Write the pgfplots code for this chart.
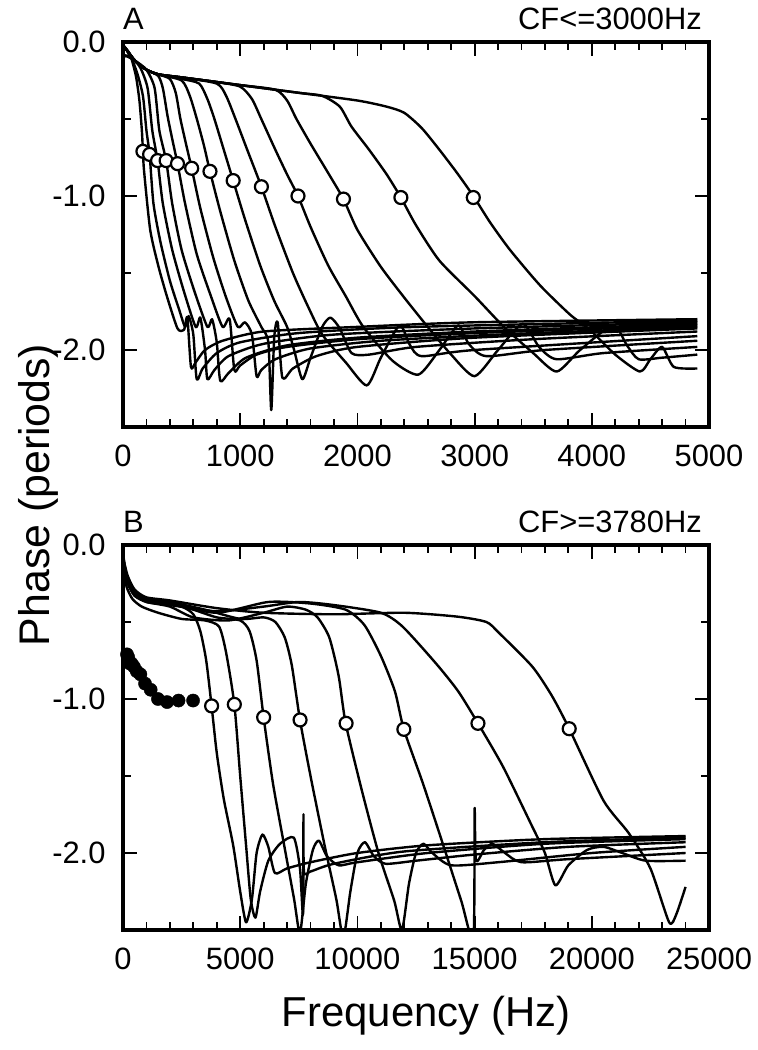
\documentclass[border=0pt]{standalone}
\usepackage{pgfplots}
\pgfplotsset{compat=1.18}
\usepackage{fontspec}
\setmainfont{Liberation Sans}
\begin{document}
\begin{tikzpicture}
\path[use as bounding box] (0bp,0bp) rectangle (758bp,1050bp);
\pgfplotsset{
  panel/.style={
    scale only axis, width=586bp, height=385bp,
    anchor=south west,
    axis line style={line width=3.8bp},
    every tick/.style={black, line width=1.8bp},
    major tick length=14bp, minor tick length=8bp,
    tick align=inside,
    ymin=-2.5, ymax=0,
    ytick={-2,-1,0}, yticklabels={-2.0,-1.0,0.0},
    minor ytick={-2.5,-1.5,-0.5},
    minor x tick num=4,
    scaled x ticks=false,
    ticklabel style={font=\fontsize{31}{36}\selectfont},
    yticklabel style={xshift=-14bp},
    xticklabel style={yshift=-14bp},
    clip=true,
  },
  cv/.style={black, line width=2.4bp, no markers, smooth, tension=0.4, line join=round},
  oc/.style={only marks, mark=*, mark size=6.5bp, mark options={fill=white, draw=black, line width=2.2bp}},
  fc/.style={only marks, mark=*, mark size=6.6bp, mark options={fill=black, draw=black}},
}
% ---------------- Panel A ----------------
\begin{axis}[panel, at={(123bp,623bp)}, xmin=0, xmax=5000,
  xtick={0,1000,2000,3000,4000,5000}, xticklabels={0,1000,2000,3000,4000,5000}]
\addplot[cv] coordinates {(0,-0.02) (60,-0.08) (110,-0.22) (140,-0.38) (161,-0.575) (170,-0.71) (180,-0.84) (232,-1.22) (300,-1.45) (374,-1.65) (465,-1.86) (520,-1.87) (549,-1.79) (580,-2.11) (620,-2.08) (700,-2.0) (850,-1.94) (1200,-1.88) (2000,-1.85) (3000,-1.82) (4900,-1.80)};
\addplot[cv] coordinates {(0,-0.1) (60,-0.09) (120,-0.2) (170,-0.35) (200,-0.575) (227,-0.73) (260,-1.05) (320,-1.3) (400,-1.55) (480,-1.74) (530,-1.85) (560,-1.78) (600,-1.9) (629,-2.19) (680,-2.12) (800,-2.02) (1000,-1.95) (1500,-1.89) (2500,-1.85) (4900,-1.81)};
\addplot[cv] coordinates {(0,-0.02) (80,-0.1) (150,-0.17) (210,-0.3) (250,-0.575) (295,-0.77) (340,-1.05) (420,-1.35) (520,-1.62) (620,-1.85) (660,-1.79) (700,-2.0) (720,-2.19) (780,-2.13) (900,-2.04) (1200,-1.96) (1800,-1.9) (3000,-1.86) (4900,-1.82)};
\addplot[cv] coordinates {(0,-0.08) (100,-0.12) (200,-0.18) (270,-0.3) (310,-0.575) (368,-0.77) (420,-1.05) (500,-1.35) (610,-1.62) (720,-1.85) (760,-1.8) (800,-1.95) (830,-2.2) (900,-2.15) (1050,-2.05) (1400,-1.97) (2000,-1.92) (3000,-1.88) (4900,-1.83)};
\addplot[cv] coordinates {(0,-0.02) (100,-0.12) (200,-0.18) (300,-0.22) (340,-0.3) (380,-0.48) (420,-0.63) (465,-0.79) (530,-1.05) (630,-1.38) (750,-1.65) (850,-1.85) (910,-1.8) (950,-2.13) (1000,-2.1) (1140,-2.03) (1400,-1.98) (2000,-1.93) (3000,-1.89) (4900,-1.84)};
\addplot[cv] coordinates {(0,-0.02) (100,-0.12) (200,-0.18) (300,-0.21) (400,-0.24) (450,-0.33) (490,-0.5) (540,-0.67) (586,-0.82) (660,-1.08) (770,-1.4) (880,-1.66) (980,-1.85) (1040,-1.82) (1100,-1.9) (1140,-2.17) (1180,-2.13) (1300,-2.06) (1600,-1.99) (2200,-1.94) (3200,-1.9) (4900,-1.85)};
\addplot[cv] coordinates {(0,-0.02) (100,-0.12) (200,-0.18) (300,-0.21) (500,-0.25) (570,-0.35) (630,-0.5) (690,-0.67) (742,-0.84) (830,-1.1) (950,-1.42) (1070,-1.68) (1180,-1.85) (1240,-1.95) (1265,-2.39) (1290,-1.92) (1320,-1.82) (1360,-2.18) (1450,-2.12) (1650,-2.04) (2000,-1.98) (3000,-1.92) (4900,-1.86)};
\addplot[cv] coordinates {(0,-0.02) (100,-0.12) (200,-0.18) (300,-0.21) (500,-0.24) (650,-0.27) (720,-0.37) (780,-0.5) (860,-0.7) (940,-0.9) (1040,-1.15) (1170,-1.45) (1290,-1.68) (1400,-1.85) (1460,-2.0) (1530,-2.19) (1600,-2.05) (1700,-1.85) (1770,-1.79) (1850,-1.86) (1950,-2.02) (2100,-2.03) (2500,-1.98) (3500,-1.93) (4900,-1.88)};
\addplot[cv] coordinates {(0,-0.02) (100,-0.12) (200,-0.18) (300,-0.21) (500,-0.23) (800,-0.27) (880,-0.35) (960,-0.5) (1060,-0.7) (1181,-0.94) (1300,-1.2) (1450,-1.5) (1580,-1.72) (1700,-1.9) (1900,-2.08) (2080,-2.23) (2200,-2.05) (2360,-1.84) (2450,-1.97) (2550,-2.04) (3000,-2.0) (4900,-1.91)};
\addplot[cv] coordinates {(0,-0.02) (100,-0.12) (200,-0.18) (300,-0.21) (500,-0.23) (800,-0.26) (1000,-0.29) (1100,-0.37) (1180,-0.5) (1300,-0.7) (1400,-0.86) (1493,-1.0) (1600,-1.2) (1750,-1.45) (1900,-1.65) (2050,-1.85) (2300,-2.07) (2520,-2.16) (2700,-2.0) (2860,-1.84) (2950,-1.96) (3100,-2.04) (3600,-2.0) (4900,-1.94)};
\addplot[cv] coordinates {(0,-0.02) (100,-0.12) (200,-0.18) (300,-0.21) (500,-0.23) (800,-0.26) (1000,-0.28) (1300,-0.31) (1400,-0.38) (1480,-0.5) (1600,-0.66) (1750,-0.85) (1881,-1.02) (2000,-1.22) (2200,-1.46) (2400,-1.66) (2600,-1.85) (2800,-2.03) (3000,-2.17) (3200,-2.0) (3410,-1.83) (3550,-1.98) (3700,-2.06) (4100,-2.02) (4900,-1.98)};
\addplot[cv] coordinates {(0,-0.02) (100,-0.12) (200,-0.18) (300,-0.21) (500,-0.23) (800,-0.26) (1000,-0.28) (1500,-0.33) (1700,-0.35) (1850,-0.42) (1950,-0.55) (2100,-0.7) (2250,-0.86) (2371,-1.01) (2500,-1.19) (2700,-1.42) (3000,-1.65) (3250,-1.85) (3500,-2.02) (3700,-2.14) (3900,-2.0) (4180,-1.84) (4300,-1.97) (4400,-2.06) (4600,-2.05) (4900,-2.03)};
\addplot[cv] coordinates {(0,-0.02) (100,-0.12) (200,-0.18) (300,-0.21) (500,-0.23) (800,-0.26) (1000,-0.28) (1500,-0.33) (2000,-0.38) (2250,-0.42) (2400,-0.46) (2550,-0.56) (2700,-0.7) (2850,-0.85) (2989,-1.0) (3131,-1.17) (3302,-1.35) (3558,-1.58) (3814,-1.77) (3985,-1.87) (4200,-2.03) (4410,-2.14) (4500,-2.06) (4600,-1.98) (4700,-2.11) (4900,-2.12)};
\addplot[oc] coordinates {(170,-0.71) (227,-0.73) (295,-0.77) (368,-0.77) (465,-0.79) (586,-0.82) (742,-0.84) (940,-0.90) (1181,-0.94) (1493,-1.0) (1881,-1.02) (2371,-1.01) (2989,-1.01)};
\end{axis}
% ---------------- Panel B ----------------
\begin{axis}[panel, at={(123bp,120bp)}, xmin=0, xmax=25000,
  xtick={0,5000,10000,15000,20000,25000}, xticklabels={0,5000,10000,15000,20000,25000}]
\addplot[cv] coordinates {(0,-0.05) (150,-0.2) (400,-0.3) (800,-0.35) (1500,-0.37) (2500,-0.4) (3000,-0.45) (3300,-0.56) (3550,-0.75) (3780,-1.045) (4000,-1.35) (4300,-1.65) (4700,-1.95) (5000,-2.25) (5250,-2.45) (5500,-2.3) (5700,-2.0) (5950,-1.88) (6200,-1.96) (6480,-2.13) (7000,-2.1) (8000,-2.06) (10000,-2.0) (13000,-1.95) (18000,-1.91) (24000,-1.89)};
\addplot[cv] coordinates {(0,-0.15) (150,-0.27) (400,-0.35) (800,-0.4) (1500,-0.44) (2500,-0.48) (3500,-0.49) (4100,-0.53) (4400,-0.7) (4750,-1.035) (5000,-1.5) (5250,-1.95) (5450,-2.3) (5650,-2.42) (5850,-2.25) (6200,-2.05) (6700,-1.94) (7286,-1.9) (7550,-2.1) (7680,-2.4) (7700,-1.75) (7720,-2.12) (8000,-2.12) (9000,-2.07) (12000,-1.99) (18000,-1.93) (24000,-1.90)};
\addplot[cv] coordinates {(0,-0.12) (200,-0.25) (500,-0.33) (1000,-0.36) (2000,-0.38) (3000,-0.42) (4000,-0.47) (5000,-0.49) (5400,-0.56) (5700,-0.75) (6000,-1.12) (6400,-1.55) (6900,-1.97) (7300,-2.3) (7550,-2.52) (7800,-2.2) (8100,-1.98) (8357,-1.92) (8700,-2.02) (9200,-2.08) (10000,-2.06) (13000,-2.0) (18000,-1.94) (24000,-1.91)};
\addplot[cv] coordinates {(0,-0.1) (200,-0.22) (500,-0.3) (1000,-0.35) (2000,-0.37) (3500,-0.42) (5000,-0.48) (6000,-0.47) (6500,-0.5) (6900,-0.6) (7200,-0.78) (7550,-1.136) (8000,-1.5) (8600,-1.95) (9100,-2.3) (9400,-2.55) (9700,-2.25) (10000,-2.0) (10321,-1.93) (10700,-2.02) (11200,-2.07) (12500,-2.05) (15000,-2.01) (19000,-1.96) (24000,-1.93)};
\addplot[cv] coordinates {(0,-0.13) (200,-0.24) (500,-0.33) (1000,-0.37) (2000,-0.4) (3000,-0.47) (4500,-0.49) (6000,-0.44) (7000,-0.4) (7800,-0.42) (8300,-0.47) (8800,-0.6) (9200,-0.85) (9500,-1.158) (10200,-1.6) (10900,-2.0) (11571,-2.31) (11900,-2.5) (12200,-2.2) (12500,-2.0) (12821,-1.94) (13200,-2.0) (14000,-2.08) (16000,-2.06) (20000,-2.0) (24000,-1.96)};
\addplot[cv] coordinates {(0,-0.11) (200,-0.22) (500,-0.31) (1000,-0.36) (2000,-0.38) (4000,-0.44) (6200,-0.37) (8000,-0.38) (9500,-0.42) (10300,-0.52) (11000,-0.72) (11600,-0.95) (11982,-1.197) (12800,-1.55) (13600,-1.92) (14429,-2.31) (14950,-2.55) (15000,-1.71) (15060,-2.05) (15400,-1.98) (15768,-1.94) (16300,-2.0) (17000,-2.06) (19000,-2.04) (24000,-2.0)};
\addplot[cv] coordinates {(0,-0.12) (200,-0.23) (500,-0.32) (1000,-0.37) (2000,-0.39) (4000,-0.43) (6000,-0.4) (7500,-0.37) (9000,-0.39) (11000,-0.44) (11929,-0.53) (13357,-0.77) (14300,-0.95) (15143,-1.158) (16214,-1.44) (17464,-1.83) (18000,-2.0) (18446,-2.21) (19000,-2.08) (19800,-1.98) (20500,-1.96) (21300,-2.0) (22300,-2.05) (24000,-2.05)};
\addplot[cv] coordinates {(0,-0.08) (200,-0.2) (500,-0.29) (1000,-0.34) (2000,-0.36) (4000,-0.41) (6000,-0.44) (9000,-0.45) (12000,-0.44) (14250,-0.465) (15500,-0.5) (16036,-0.57) (17464,-0.79) (18300,-0.98) (19036,-1.193) (20500,-1.66) (21571,-1.87) (22500,-2.1) (23300,-2.45) (23600,-2.4) (24000,-2.22)};
\addplot[fc] coordinates {(170,-0.71) (227,-0.73) (295,-0.77) (368,-0.77) (465,-0.79) (586,-0.82) (742,-0.84) (940,-0.90) (1181,-0.94) (1493,-1.0) (1881,-1.02) (2371,-1.01) (2989,-1.01)};
\addplot[oc] coordinates {(3780,-1.045) (4750,-1.035) (6000,-1.119) (7554,-1.136) (9518,-1.158) (11982,-1.197) (15143,-1.158) (19036,-1.193)};
\end{axis}
% ---------------- Text ----------------
\node[anchor=base west, inner sep=0pt, font=\fontsize{31}{36}\selectfont] at (123bp,1020bp) {A};
\node[anchor=base east, inner sep=0pt, font=\fontsize{31}{36}\selectfont] at (702bp,1020bp) {CF<=3000Hz};
\node[anchor=base west, inner sep=0pt, font=\fontsize{31}{36}\selectfont] at (123bp,517bp) {B};
\node[anchor=base east, inner sep=0pt, font=\fontsize{31}{36}\selectfont] at (702bp,517bp) {CF>=3780Hz};
\node[rotate=90, inner sep=0pt, font=\fontsize{43}{48}\selectfont] at (38bp,555bp) {Phase (periods)};
\node[anchor=base, inner sep=0pt, font=\fontsize{42}{48}\selectfont] at (426bp,24bp) {Frequency (Hz)};
\end{tikzpicture}
\end{document}
